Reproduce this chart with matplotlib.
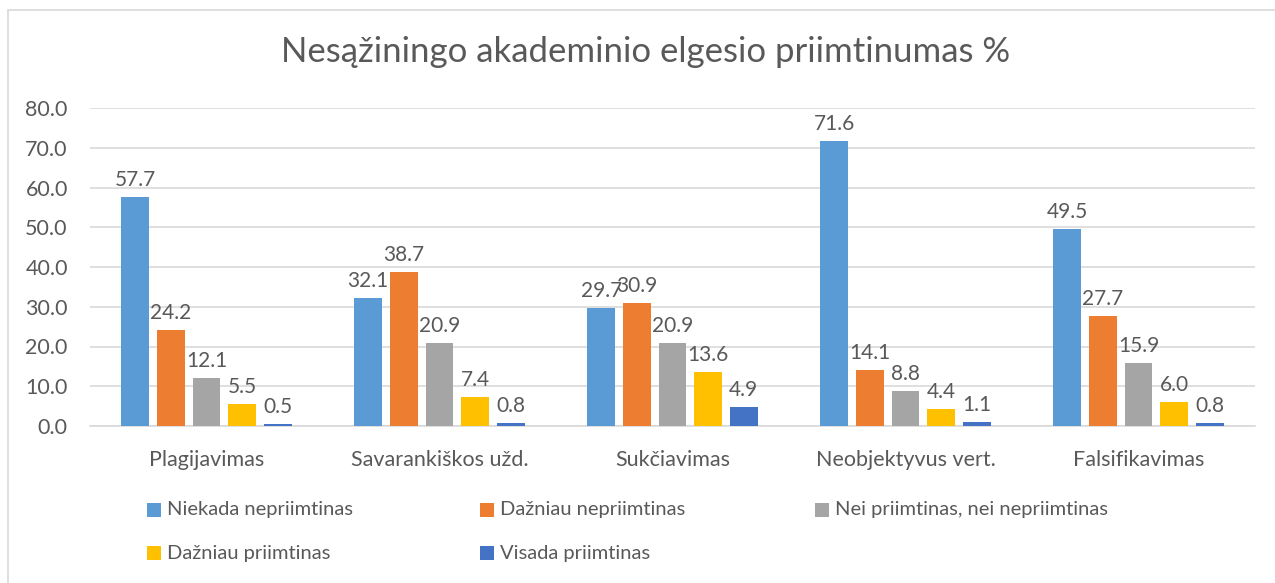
import numpy as np
import matplotlib.pyplot as plt
from matplotlib.patches import Rectangle

plt.rcParams["font.family"] = ["Lato", "DejaVu Sans"]

categories = ["Plagijavimas", "Savarankiškos užd.", "Sukčiavimas",
              "Neobjektyvus vert.", "Falsifikavimas"]
series_names = ["Niekada nepriimtinas", "Dažniau nepriimtinas",
                "Nei priimtinas, nei nepriimtinas", "Dažniau priimtinas",
                "Visada priimtinas"]
niekada = [57.7, 32.1, 29.7, 71.6, 49.5]
dazniau_nepr = [24.2, 38.7, 30.9, 14.1, 27.7]
nei = [12.1, 20.9, 20.9, 8.8, 15.9]
dazniau_pr = [5.5, 7.4, 13.6, 4.4, 6.0]
visada = [0.5, 0.8, 4.9, 1.1, 0.8]
yticks = [0, 10, 20, 30, 40, 50, 60, 70, 80]

series = [niekada, dazniau_nepr, nei, dazniau_pr, visada]
colors = ["#5B9BD5", "#ED7D31", "#A5A5A5", "#FFC000", "#4472C4"]
text_col = "#595959"
grid_col = "#D9D9D9"

fig = plt.figure(figsize=(12.75, 5.83), dpi=100)
fig.patch.set_facecolor("white")
ax = fig.add_axes([90 / 1275, 1 - 426 / 583, (1255 - 90) / 1275, (426 - 108) / 583])

x = np.arange(len(categories))
step = 0.153
width = 0.12
for i, (vals, col) in enumerate(zip(series, colors)):
    pos = x + (i - 2) * step
    bars = ax.bar(pos, vals, width=width, color=col, edgecolor="none", zorder=3)
    for b, v in zip(bars, vals):
        ax.annotate(f"{v:.1f}", (b.get_x() + b.get_width() / 2, v),
                    xytext=(0, 5), textcoords="offset points",
                    ha="center", va="bottom", fontsize=15, color=text_col)

ax.set_xlim(-0.5, len(categories) - 0.5)
ax.set_ylim(0, 80)
ax.set_yticks(yticks)
ax.set_yticklabels([f"{t:.1f}" for t in yticks])
ax.set_xticks(x)
ax.set_xticklabels(categories)
ax.tick_params(axis="both", length=0, labelcolor=text_col)
ax.tick_params(axis="x", pad=17, labelsize=15.5)
ax.tick_params(axis="y", pad=16, labelsize=15.5)
ax.yaxis.grid(True, color=grid_col, linewidth=1.2, zorder=0)
ax.set_axisbelow(True)
for s in ["top", "right", "left"]:
    ax.spines[s].set_visible(False)
ax.spines["bottom"].set_color(grid_col)
ax.spines["bottom"].set_linewidth(1.2)

fig.text(646 / 1275, 1 - 52 / 583,
         "Nesąžiningo akademinio elgesio priimtinumas %",
         ha="center", va="center", fontsize=25, color=text_col)

# legend, laid out like the Excel one (3 per row)
col_x = [147, 480, 815]
row_y = [510, 553]
for i, (name, col) in enumerate(zip(series_names, colors)):
    px = col_x[i % 3]
    py = row_y[i // 3]
    fig.patches.append(Rectangle((px / 1275, 1 - (py + 7) / 583), 14 / 1275, 14 / 583,
                                 transform=fig.transFigure, facecolor=col,
                                 edgecolor="none"))
    fig.text((px + 20) / 1275, 1 - py / 583, name, ha="left", va="center",
             fontsize=14.5, color=text_col)

# chart border
fig.patches.append(Rectangle((8 / 1275, -0.05), 1.2, 1 - 10 / 583 + 0.05,
                             transform=fig.transFigure, facecolor="none",
                             edgecolor=grid_col, linewidth=1.2))

plt.savefig("out.png", dpi=100)
